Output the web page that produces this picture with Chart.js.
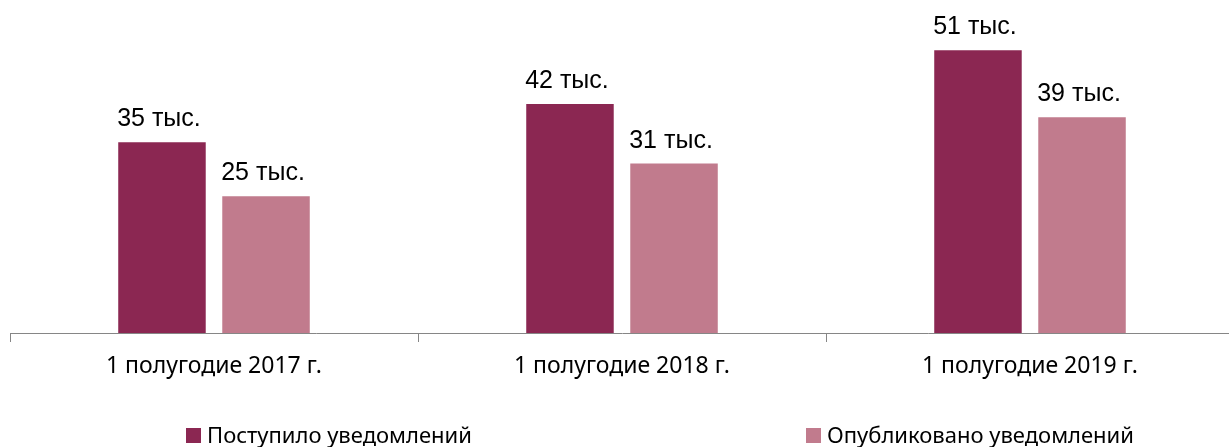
<!DOCTYPE html>
<html>
<head>
<meta charset="utf-8">
<script src="https://cdn.jsdelivr.net/npm/chart.js@4.4.1/dist/chart.umd.min.js"></script>
<style>
  html, body { margin: 0; padding: 0; background: #fff; overflow: hidden; width: 1229px; height: 447px; }
  #wrap { position: absolute; left: 0; top: 0; width: 1234px; height: 447px; }
  .lg { position: absolute; top: 423px; font-family: "Noto Sans", sans-serif; font-size: 22px; color: #000; white-space: nowrap; line-height: 1; }
  .lg i { position: absolute; left: 0; top: 5px; width: 15px; height: 15px; }
  .lg span { display: inline-block; margin-left: 21px; }
</style>
</head>
<body>
<div id="wrap"><canvas id="c"></canvas></div>
<div id="legend"></div>
<script>
const categories = ['1 полугодие 2017 г.', '1 полугодие 2018 г.', '1 полугодие 2019 г.'];
const seriesNames = ['Поступило уведомлений', 'Опубликовано уведомлений'];
const received = [35, 42, 51.9];
const published = [25.1, 31.1, 39.6];
const receivedLabels = ['35 тыс.', '42 тыс.', '51 тыс.'];
const publishedLabels = ['25 тыс.', '31 тыс.', '39 тыс.'];
const colors = ['#8B2752', '#C17B8D'];
const legendLeft = [186, 806];

const valueLabels = {
  id: 'valueLabels',
  afterDatasetsDraw(chart) {
    const ctx = chart.ctx;
    const labelSets = [receivedLabels, publishedLabels];
    ctx.save();
    ctx.font = '25px "Liberation Sans", Arial, sans-serif';
    ctx.fillStyle = '#000';
    ctx.textAlign = 'center';
    ctx.textBaseline = 'alphabetic';
    chart.data.datasets.forEach((ds, i) => {
      chart.getDatasetMeta(i).data.forEach((bar, j) => {
        ctx.fillText(labelSets[i][j], bar.x - 3, bar.y - 16);
      });
    });
    ctx.restore();
  }
};

new Chart(document.getElementById('c'), {
  type: 'bar',
  data: {
    labels: categories,
    datasets: [
      { label: seriesNames[0], data: received, backgroundColor: colors[0], categoryPercentage: 0.51, barPercentage: 0.841 },
      { label: seriesNames[1], data: published, backgroundColor: colors[1], categoryPercentage: 0.51, barPercentage: 0.841 }
    ]
  },
  options: {
    responsive: true,
    maintainAspectRatio: false,
    animation: false,
    layout: { padding: { left: 10, right: 0, top: 0, bottom: 0 } },
    plugins: { legend: { display: false }, tooltip: { enabled: false } },
    scales: {
      x: {
        grid: { display: true, drawOnChartArea: false, drawTicks: true, tickLength: 9, color: '#868686', offset: true },
        border: { display: true, color: '#868686', width: 1 },
        ticks: { color: '#000', font: { family: '"Noto Sans", sans-serif', size: 23 }, padding: 11, maxRotation: 0 },
        afterFit(scale) { scale.height = 114; }
      },
      y: { display: false, min: 0, max: 61.1 }
    }
  },
  plugins: [valueLabels]
});

const lg = document.getElementById('legend');
seriesNames.forEach((name, i) => {
  const d = document.createElement('div');
  d.className = 'lg';
  d.style.left = legendLeft[i] + 'px';
  const sw = document.createElement('i');
  sw.style.background = colors[i];
  const t = document.createElement('span');
  t.textContent = name;
  d.appendChild(sw);
  d.appendChild(t);
  lg.appendChild(d);
});
</script>
</body>
</html>
